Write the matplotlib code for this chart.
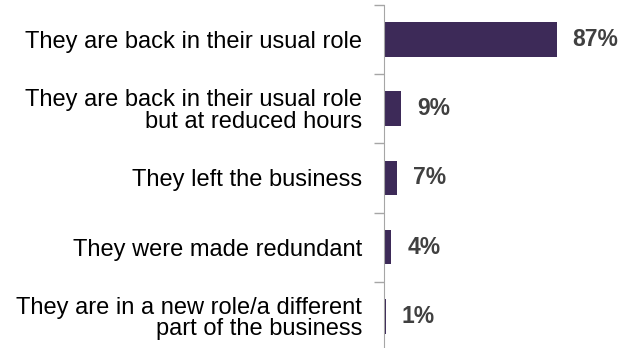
import matplotlib
matplotlib.use("Agg")
import matplotlib.pyplot as plt

categories = [
    "They are back in their usual role",
    "They are back in their usual role\nbut at reduced hours",
    "They left the business",
    "They were made redundant",
    "They are in a new role/a different\npart of the business",
]
values = [87, 9, 7, 4, 1]
value_labels = ["87%", "9%", "7%", "4%", "1%"]

plt.rcParams["font.family"] = ["Liberation Sans", "DejaVu Sans"]

fig = plt.figure(figsize=(6.23, 3.48), dpi=100)
ax = fig.add_axes([0.6156, -0.0086, 0.3194, 0.9943])

pos = list(range(len(categories)))
ax.barh(pos, values, height=0.5, color="#3d2a58")
ax.set_ylim(len(categories) - 0.5, -0.5)
ax.set_xlim(0, 100)

# ticks sit on the category boundaries, labels in the middle
ax.set_yticks([p - 0.5 for p in pos] + [len(pos) - 0.5])
ax.set_yticklabels([])
ax.set_yticks(pos, minor=True)
ax.set_yticklabels(categories, minor=True, fontsize=17, ha="right",
                   linespacing=0.97)
ax.tick_params(axis="y", which="major", length=7, color="#a6a6a6", width=1)
ax.tick_params(axis="y", which="minor", length=0, pad=15.5)
ax.set_xticks([])

for side in ["top", "right", "bottom"]:
    ax.spines[side].set_visible(False)
ax.spines["left"].set_color("#a6a6a6")

for p, v, lab in zip(pos, values, value_labels):
    ax.annotate(lab, (v, p), xytext=(16, 0), textcoords="offset pixels",
                va="center", ha="left", fontsize=16.5, fontweight="bold",
                color="#404040")

fig.savefig("out.png", dpi=100)
